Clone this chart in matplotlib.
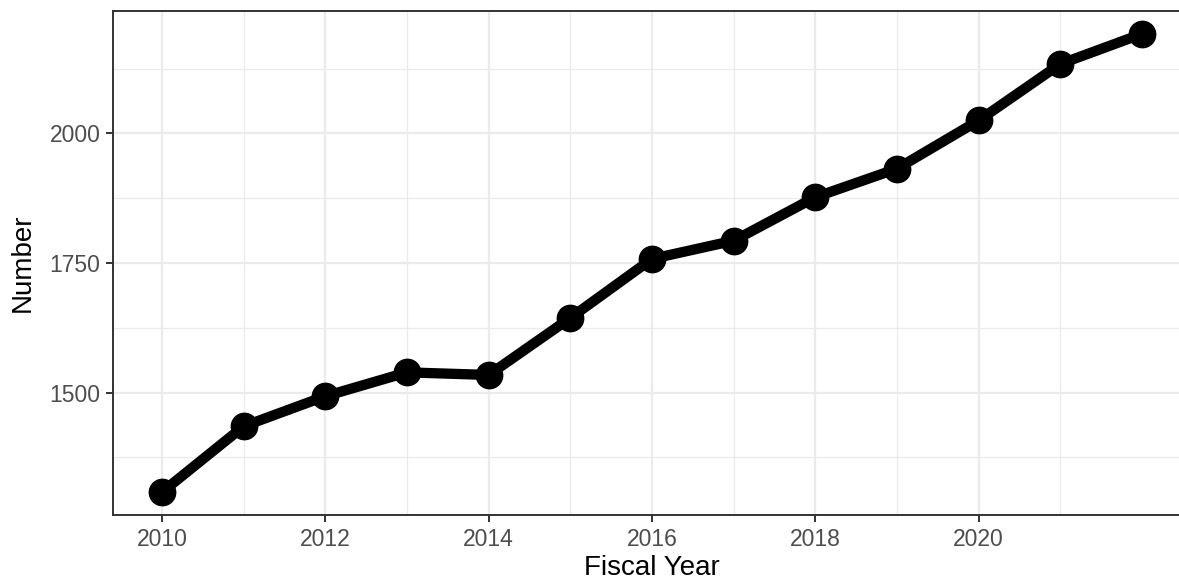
import matplotlib
matplotlib.use("Agg")
import matplotlib.pyplot as plt

plt.rcParams["font.family"] = ["Liberation Sans", "DejaVu Sans"]

# данные
years = [2010, 2011, 2012, 2013, 2014, 2015, 2016, 2017, 2018, 2019, 2020, 2021, 2022]
counts = [1308, 1435, 1493, 1539, 1534, 1644, 1758, 1793, 1877, 1932, 2025, 2134, 2192]
x_ticks = [2010, 2012, 2014, 2016, 2018, 2020]
y_ticks = [1500, 1750, 2000]

W, H = 1179, 583
fig = plt.figure(figsize=(W / 100, H / 100), dpi=100)
# правая граница панели уходит за край картинки (как в оригинале)
left, right, top, bottom = 113, 1191, 11, 515
ax = fig.add_axes([left / W, 1 - bottom / H, (right - left) / W, (bottom - top) / H])

ax.plot(years, counts, color="black", linewidth=7.4, marker="o", markersize=19,
        solid_capstyle="butt", zorder=3)

# расширение осей как в ggplot (5%)
xr = years[-1] - years[0]
yr = max(counts) - min(counts)
ax.set_xlim(years[0] - 0.05 * xr, years[-1] + 0.05 * xr)
ax.set_ylim(min(counts) - 0.05 * yr, max(counts) + 0.05 * yr)

ax.set_xticks(x_ticks)
ax.set_yticks(y_ticks)
ax.set_xticks(list(range(2011, 2023, 2)), minor=True)
ax.set_yticks([1375, 1625, 1875, 2125], minor=True)

ax.grid(True, which="major", color="#EBEBEB", linewidth=1.6, zorder=0)
ax.grid(True, which="minor", color="#EBEBEB", linewidth=0.9, zorder=0)
ax.set_axisbelow(True)

for s in ax.spines.values():
    s.set_color("#333333")
    s.set_linewidth(1.4)

ax.tick_params(which="major", length=5, width=1.4, color="#333333",
               labelcolor="#4D4D4D", labelsize=16.5, pad=4)
ax.tick_params(which="minor", length=0)

ax.set_xlabel("Fiscal Year", fontsize=20, color="black", labelpad=3)
ax.set_ylabel("Number", fontsize=20, color="black", labelpad=10)

fig.savefig("out.png", dpi=100, facecolor="white")
